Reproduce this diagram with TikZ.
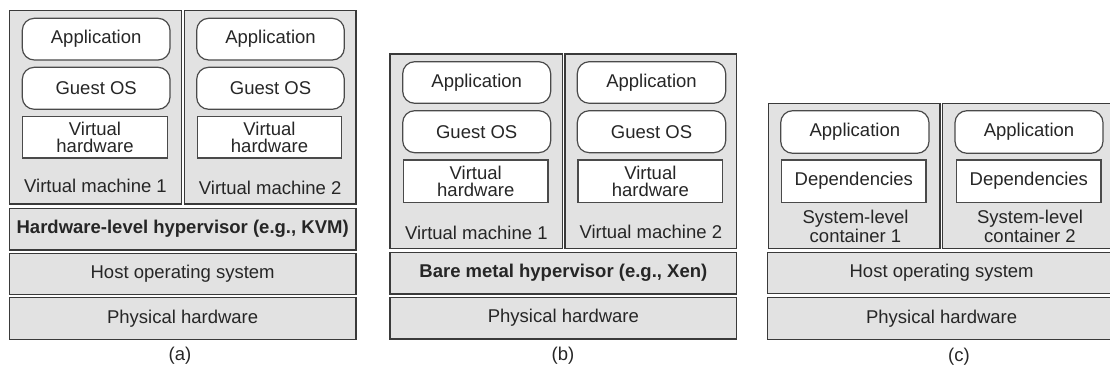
\documentclass[tikz,border=0pt]{standalone}
\usepackage{fontspec}
\setmainfont{Liberation Sans}
\definecolor{panelfill}{HTML}{E2E2E2}
\definecolor{edgedark}{HTML}{3A3A3A}
\definecolor{edgeinner}{HTML}{4A4A4A}
\tikzset{
  layer/.style={draw=edgedark, fill=panelfill, line width=0.65pt, inner sep=0pt,
    font=\fontsize{9.25pt}{10pt}\selectfont, text=black!85},
  vmbox/.style={layer},
  appbox/.style={draw=edgeinner, fill=white, line width=0.6pt, rounded corners=6pt,
    inner sep=0pt, font=\fontsize{9.25pt}{10pt}\selectfont, text=black!85},
  hwbox/.style={draw=edgeinner, fill=white, line width=0.6pt, inner sep=0pt,
    align=center, font=\fontsize{9.25pt}{8.3pt}\selectfont, text=black!85},
  lbl/.style={inner sep=0pt, align=center, font=\fontsize{9.25pt}{9.6pt}\selectfont, text=black!85},
  boldlayer/.style={layer, font=\fontsize{9.25pt}{10pt}\selectfont\bfseries},
}
% box from corner (x1,y1) to corner (x2,y2), in picture units (half points)
\newcommand{\placebox}[7]{%
  \pgfmathsetmacro\pbw{(#5-#3)*0.5}%
  \pgfmathsetmacro\pbh{(#6-#4)*0.5}%
  \node[#1, minimum width=\pbw pt, minimum height=\pbh pt] (#2) at ({(#3+#5)/2},{(#4+#6)/2}) {#7};}
\begin{document}
\begin{tikzpicture}[x=0.5pt, y=-0.5pt]
\useasboundingbox (0,0) rectangle (1110,374);
\clip (0,0) rectangle (1110,374);

% ---------- (a) hosted hypervisor ----------
\placebox{vmbox}{avm1}{9.3}{10.7}{181.7}{204}{}
\placebox{vmbox}{avm2}{184.3}{10.7}{356}{204}{}
\placebox{appbox}{aapp1}{22.3}{18.3}{170}{60}{Application}
\placebox{appbox}{aos1}{22.3}{67.3}{170}{109.3}{Guest OS}
\placebox{hwbox}{ahw1}{22.7}{116.3}{167.3}{158}{Virtual\\hardware}
\placebox{appbox}{aapp2}{196.7}{18.3}{344.3}{60}{Application}
\placebox{appbox}{aos2}{196.7}{67.3}{344.3}{109.3}{Guest OS}
\placebox{hwbox}{ahw2}{197.3}{116.3}{341.7}{158}{Virtual\\hardware}
\node[lbl] (avml1) at (95.5,185.5) {Virtual machine 1};
\node[lbl] (avml2) at (270.2,187.5) {Virtual machine 2};
\placebox{boldlayer}{ahyp}{9.3}{208.3}{356}{250}{Hardware-level hypervisor (e.g., KVM)}
\placebox{layer}{ahost}{9.3}{253.3}{356}{294.7}{Host operating system}
\placebox{layer}{aphys}{9.3}{297.7}{356}{339.3}{Physical hardware}
\node[lbl] (acap) at (180,355.5) {(a)};

% ---------- (b) bare metal hypervisor ----------
\placebox{vmbox}{bvm1}{390}{54}{562.7}{248.3}{}
\placebox{vmbox}{bvm2}{565}{54}{736.7}{248.3}{}
\placebox{appbox}{bapp1}{402.7}{61.7}{550.7}{103.3}{Application}
\placebox{appbox}{bos1}{402.7}{110.7}{550.7}{152.7}{Guest OS}
\placebox{hwbox}{bhw1}{403.5}{160}{548}{202.3}{Virtual\\hardware}
\placebox{appbox}{bapp2}{577.3}{61.7}{725.7}{103.3}{Application}
\placebox{appbox}{bos2}{577.3}{110.7}{725.7}{152.7}{Guest OS}
\placebox{hwbox}{bhw2}{578}{160}{722.7}{202.3}{Virtual\\hardware}
\node[lbl] (bvml1) at (476.3,232.5) {Virtual machine 1};
\node[lbl] (bvml2) at (650.8,231.7) {Virtual machine 2};
\placebox{boldlayer}{bhyp}{390}{252.3}{736.7}{294}{Bare metal hypervisor (e.g., Xen)}
\placebox{layer}{bphys}{390}{297.3}{736.7}{339}{Physical hardware}
\node[lbl] (bcap) at (563,356) {(b)};

% ---------- (c) system-level containers ----------
\placebox{vmbox}{cct1}{768.3}{103.3}{940}{248.3}{}
\placebox{vmbox}{cct2}{942.7}{103.3}{1116}{248.3}{}
\placebox{appbox}{capp1}{780.7}{110.7}{929}{153.3}{Application}
\placebox{hwbox}{cdep1}{781.7}{160}{926}{202.3}{Dependencies}
\placebox{appbox}{capp2}{955}{110.7}{1103}{153.3}{Application}
\placebox{hwbox}{cdep2}{956.7}{160}{1101}{202.3}{Dependencies}
\node[lbl] (cctl1) at (855.5,226.2) {System-level\\container 1};
\node[lbl] (cctl2) at (1030,226.2) {System-level\\container 2};
\placebox{layer}{chost}{767.3}{252.3}{1116}{293.3}{Host operating system}
\placebox{layer}{cphys}{767.3}{297.3}{1116}{339.3}{Physical hardware}
\node[lbl] (ccap) at (959,356.5) {(c)};
\end{tikzpicture}
\end{document}
